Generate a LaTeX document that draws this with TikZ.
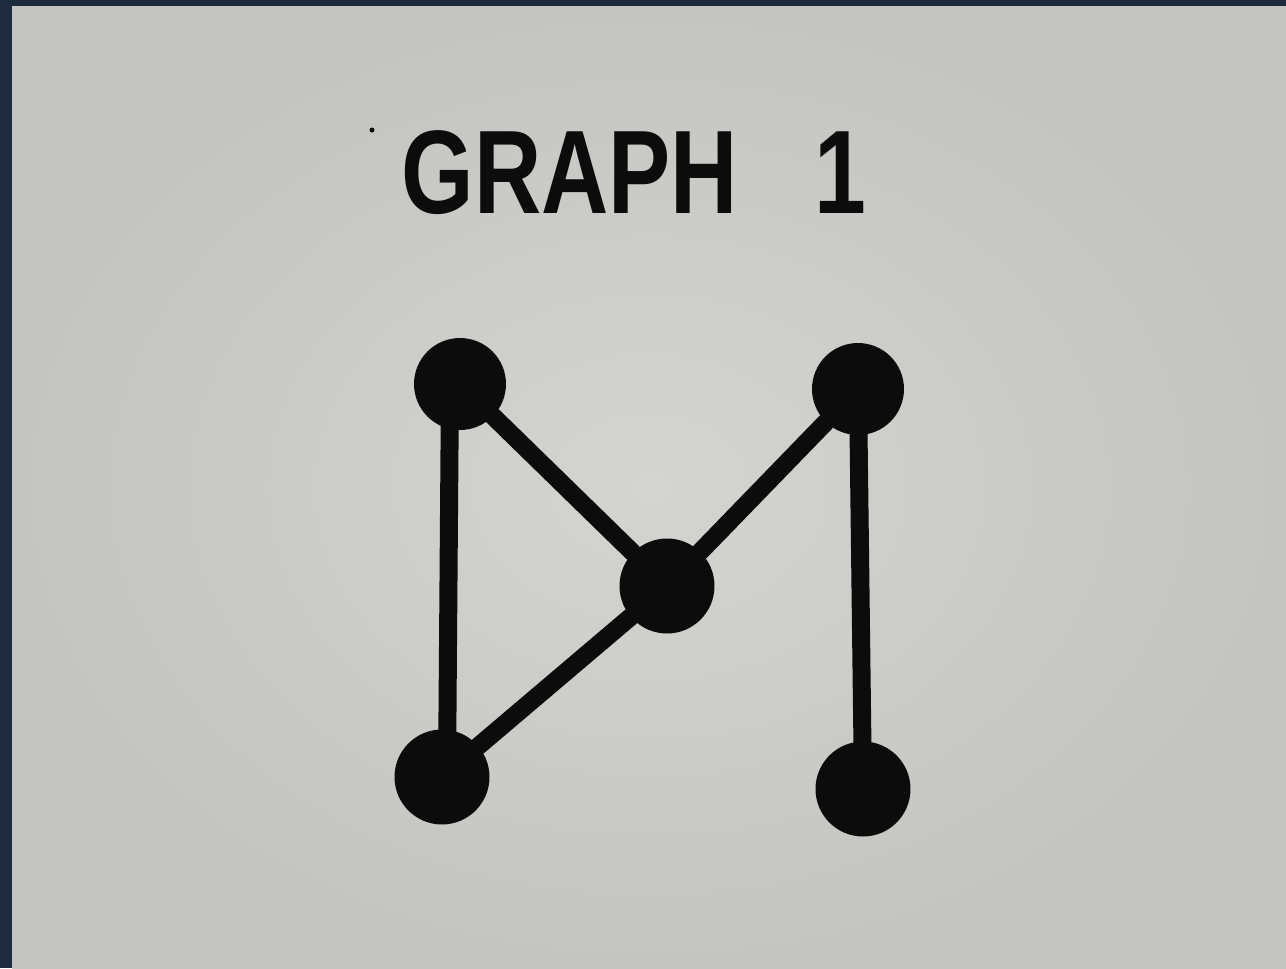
\documentclass[tikz,border=0pt]{standalone}
\usepackage{fontspec}
\setmainfont{Liberation Sans}
\definecolor{paperin}{RGB}{212,213,208}
\definecolor{paperout}{RGB}{196,196,192}
\definecolor{frame}{RGB}{30,42,62}
\definecolor{ink}{RGB}{12,12,12}
\begin{document}
\begin{tikzpicture}[x=0.02cm,y=-0.02cm,
  vertex/.style={circle,fill=ink,draw=none,inner sep=0pt,minimum size=1.84cm},
  edge/.style={draw=ink,line width=0.36cm,line cap=round}]
\useasboundingbox (0,0) rectangle (1286,968);
\fill[frame] (0,0) rectangle (1286,968);
\shade[inner color=paperin,outer color=paperout] (12,6) rectangle (1286,968);
% title
\node[anchor=base,inner sep=0pt,text=ink] (title) at (634,213)
  {\scalebox{1.02}[1.3]{\fontsize{52}{60}\selectfont\bfseries GRAPH\hspace{1.5cm}1}};
\fill[ink] (372,130) circle (2.5);
% vertices
\node[vertex] (A) at (460,384) {};
\node[vertex] (B) at (858,389) {};
\node[vertex,minimum size=1.9cm] (C) at (667,586) {};
\node[vertex,minimum size=1.9cm] (D) at (442,777) {};
\node[vertex,minimum size=1.9cm] (E) at (863,789) {};
% edges
\path (A.center) ++(-10,0) coordinate (a1);
\path (D.center) ++(5,0) coordinate (d1);
\draw[edge] (a1) -- (d1);
\draw[edge] (A) -- (C);
\draw[edge] (C) -- (B);
\draw[edge] (C) -- (D);
\draw[edge] (B.center) -- (E.center);
\end{tikzpicture}
\end{document}
